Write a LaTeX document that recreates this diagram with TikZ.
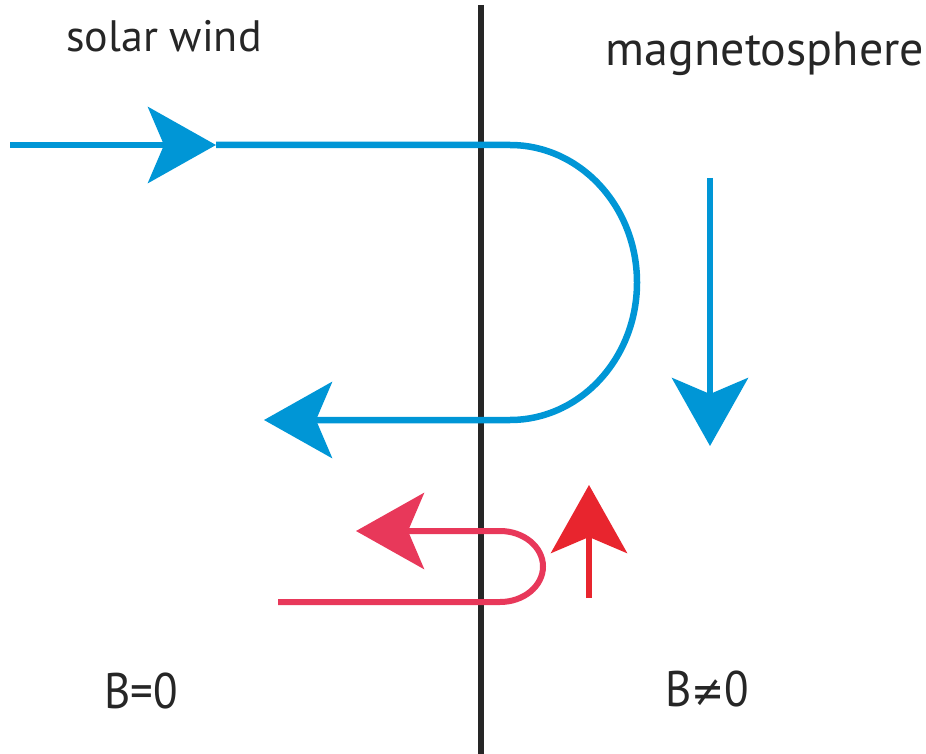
\documentclass[tikz,border=0pt]{standalone}
\usepackage{fontspec}
\usepackage{graphicx}
\setmainfont{PT Sans}
\newfontfamily\symfont{DejaVu Sans}
\usetikzlibrary{arrows.meta}
\definecolor{swblue}{RGB}{0,150,214}
\definecolor{loopred}{RGB}{232,56,90}
\definecolor{upred}{RGB}{232,37,46}
\tikzset{
  bigtip/.style={-{Stealth[length=68pt,width=76pt,inset=16pt]}},
  blueline/.style={draw=swblue,line width=6.5pt},
  redline/.style={draw=loopred,line width=6pt},
  lbl/.style={inner sep=0pt,anchor=base,text=black!85},
}
\begin{document}
\begin{tikzpicture}[x=1pt,y=-1pt]
\useasboundingbox (0,0) rectangle (926,754);
% boundary
\coordinate (btop) at (481,5);
\coordinate (bbot) at (481,754);
\draw[line width=6.5pt,black!85] (btop) -- (bbot);
% labels
\node[lbl,font=\fontsize{44}{48}\selectfont] (sw) at (164,52) {solar wind};
\node[lbl,font=\fontsize{48}{52}\selectfont] (ms) at (765,66) {magnetosphere};
\node[lbl,font=\fontsize{50}{54}\selectfont] (b0) at (141,708) {\scalebox{0.9}[1]{B=0}};
\node[lbl,font=\fontsize{50}{54}\selectfont] (bn) at (707,706) {\scalebox{0.9}[1]{B{\symfont\fontsize{44}{48}\selectfont ≠}0}};
% blue field line
\coordinate (bs) at (10,145);
\coordinate (bm) at (216,145);
\coordinate (bc1) at (510,145);
\coordinate (be) at (264,420);
\draw[blueline,bigtip] (bs) -- (bm);
\draw[blueline,bigtip] (bm) -- (bc1) arc[start angle=-90,end angle=90,x radius=127,y radius=137.5] -- (be);
% blue down arrow
\coordinate (ds) at (710,178);
\coordinate (de) at (710,446);
\draw[blueline,bigtip] (ds) -- (de);
% red loop
\coordinate (rs) at (278,602);
\coordinate (rc1) at (500,602);
\coordinate (re) at (356,531);
\draw[redline,bigtip] (rs) -- (rc1) arc[start angle=90,end angle=-90,x radius=43,y radius=35.5] -- (re);
% red up arrow
\coordinate (us) at (589,598);
\coordinate (ue) at (589,485);
\draw[draw=upred,line width=6pt,bigtip] (us) -- (ue);
\end{tikzpicture}
\end{document}
